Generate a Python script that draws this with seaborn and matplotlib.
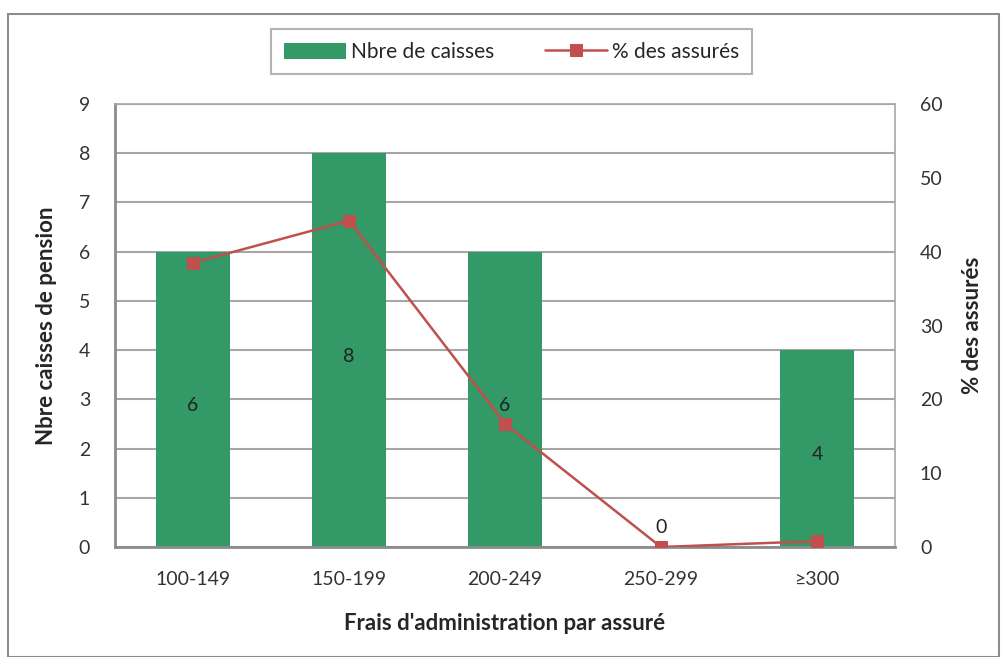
import matplotlib
matplotlib.use('Agg')
import matplotlib.pyplot as plt
import seaborn as sns
import pandas as pd
from matplotlib.patches import Rectangle

# Data
categories = ['100-149', '150-199', '200-249', '250-299', '≥300']
nb_caisses = [6, 8, 6, 0, 4]
pct_assures = [38.5, 44.2, 16.7, 0.0, 0.8]

df = pd.DataFrame({'tranche': categories, 'caisses': nb_caisses, 'pct': pct_assures})

sns.set_style('white')
plt.rcParams['font.family'] = ['Lato', 'DejaVu Sans']

bar_color = '#339966'
line_color = '#C0504D'
grid_color = '#A6A6A6'
text_color = '#333333'

fig = plt.figure(figsize=(10.01, 6.57), dpi=100)
ax = fig.add_axes([0.115, 0.1674, 0.779, 0.6743])

sns.barplot(data=df, x='tranche', y='caisses', color=bar_color, saturation=1,
            width=0.47, ax=ax, zorder=2, label='Nbre de caisses', linewidth=0)
if ax.get_legend() is not None:
    ax.get_legend().remove()
ax.set_ylim(0, 9)
ax.set_yticks(range(0, 10))
ax.grid(axis='y', color=grid_color, linewidth=1.5, zorder=0)
ax.set_axisbelow(True)

# bar value labels
for i, v in enumerate(nb_caisses):
    y = v / 2 - 0.12 if v > 0 else 0.4
    ax.text(i, y, str(v), ha='center', va='center', fontsize=14, color='#222222', zorder=5)

for s in ['top', 'right']:
    ax.spines[s].set_color(grid_color)
    ax.spines[s].set_linewidth(1.2)
ax.spines['left'].set_color('#8C8C8C')
ax.spines['left'].set_linewidth(2)
ax.spines['bottom'].set_color('#8C8C8C')
ax.spines['bottom'].set_linewidth(2)

ax2 = ax.twinx()
sns.lineplot(data=df, x='tranche', y='pct', sort=False, color=line_color, marker='s',
             markersize=8, markeredgecolor=line_color, linewidth=1.8, ax=ax2,
             label='% des assurés', zorder=3, legend=False)
ax2.set_ylim(0, 60)
ax2.set_yticks(range(0, 61, 10))
for s in ax2.spines.values():
    s.set_visible(False)
ax2.set_zorder(ax.get_zorder() + 1)
ax2.patch.set_visible(False)
ax.set_xlim(-0.5, 4.5)

ax.tick_params(axis='y', length=0, labelsize=14, colors=text_color, pad=18)
ax.tick_params(axis='x', length=0, labelsize=14, colors=text_color, pad=17)
ax2.tick_params(axis='y', length=0, labelsize=14, colors=text_color, pad=18)

ax.set_xlabel("Frais d'administration par assuré", fontsize=16, fontweight='bold', labelpad=18)
ax.set_ylabel('Nbre caisses de pension', fontsize=16, fontweight='bold', labelpad=16)
ax2.set_ylabel('% des assurés', fontsize=16, fontweight='bold', labelpad=14)

h1, l1 = ax.get_legend_handles_labels()
h2, l2 = ax2.get_legend_handles_labels()
leg = fig.legend(h1 + h2, l1 + l2, loc='center', bbox_to_anchor=(0.511, 0.921), ncol=2,
                 fontsize=15, frameon=True, fancybox=False, edgecolor='#A0A0A0',
                 handlelength=3.0, handleheight=0.8, columnspacing=2.4, borderpad=0.6,
                 handletextpad=0.25, borderaxespad=0)
leg.get_frame().set_linewidth(1.5)
leg._legend_box.sep = 8

# outer chart border
fig.patches.append(Rectangle((0.008, 0.0), 0.99, 0.978, transform=fig.transFigure,
                             fill=False, edgecolor='#8C8C8C', linewidth=1.5))

fig.savefig('out.png', dpi=100)
